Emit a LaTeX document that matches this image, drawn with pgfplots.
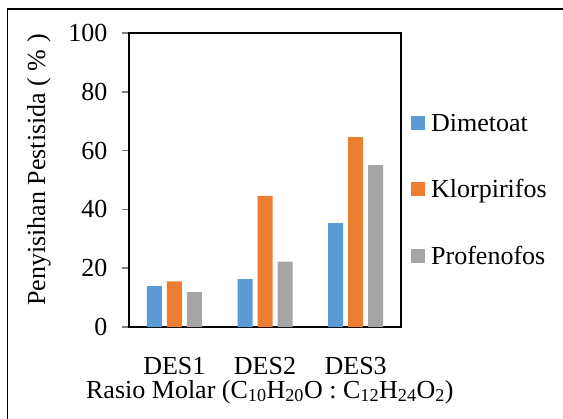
\documentclass[border=0pt]{standalone}
\usepackage{pgfplots}
\pgfplotsset{compat=1.18}
\usepackage{fontspec}
\setmainfont{Liberation Serif}
\definecolor{cblue}{HTML}{5B9BD5}
\definecolor{corange}{HTML}{ED7D31}
\definecolor{cgray}{HTML}{A5A5A5}
\begin{document}
\begin{tikzpicture}[x=1bp,y=1bp,font=\fontsize{26bp}{31bp}\selectfont]
\useasboundingbox (0,0) rectangle (563,418);
\draw[line width=1.5bp] (7.5,-20) -- (7.5,409) -- (600,409);
\begin{axis}[
  at={(129bp,91bp)}, anchor=south west,
  scale only axis, width=272bp, height=294bp,
  xmin=-0.5, xmax=2.5, ymin=0, ymax=100,
  ybar=5bp, bar width=15bp,
  axis line style={line width=1.5bp},
  xtick={0,1,2}, xticklabels={DES1,DES2,DES3},
  xtick style={draw=none},
  ytick={0,20,40,60,80,100},
  ytick pos=left,
  ytick style={line width=1.5bp},
  tick align=outside, major tick length=7bp,
  yticklabel style={xshift=-11bp},
  xticklabel style={anchor=base, yshift=-40bp},
  /pgf/number format/assume math mode=true,
  xlabel={Rasio Molar (C\textsubscript{10}H\textsubscript{20}O : C\textsubscript{12}H\textsubscript{24}O\textsubscript{2})},
  ylabel={Penyisihan Pestisida ( \% )},
  every axis x label/.style={at={(rel axis cs:0.518,0)}, anchor=base, yshift=-71bp},
  every axis y label/.style={at={(rel axis cs:0,0.534)}, rotate=90, anchor=center, yshift=90bp},
  legend style={draw=none, fill=none, at={(rel axis cs:1,0.5)}, anchor=west, xshift=7bp, yshift=-10bp, row sep=43bp, font=\fontsize{26bp}{31bp}\selectfont},
  legend cell align=left,
  legend image code/.code={\path (0bp,0bp) -- (18bp,0bp); \fill[#1,draw=none] (0bp,-7bp) rectangle (14bp,7bp);},
]
\addplot[fill=cblue, draw=none] coordinates {(0,13.9) (1,16.3) (2,35.3)};
\addplot[fill=corange, draw=none] coordinates {(0,15.5) (1,44.6) (2,64.6)};
\addplot[fill=cgray, draw=none] coordinates {(0,11.9) (1,22.2) (2,55.1)};
\legend{Dimetoat,Klorpirifos,Profenofos}
\end{axis}
\end{tikzpicture}
\end{document}
